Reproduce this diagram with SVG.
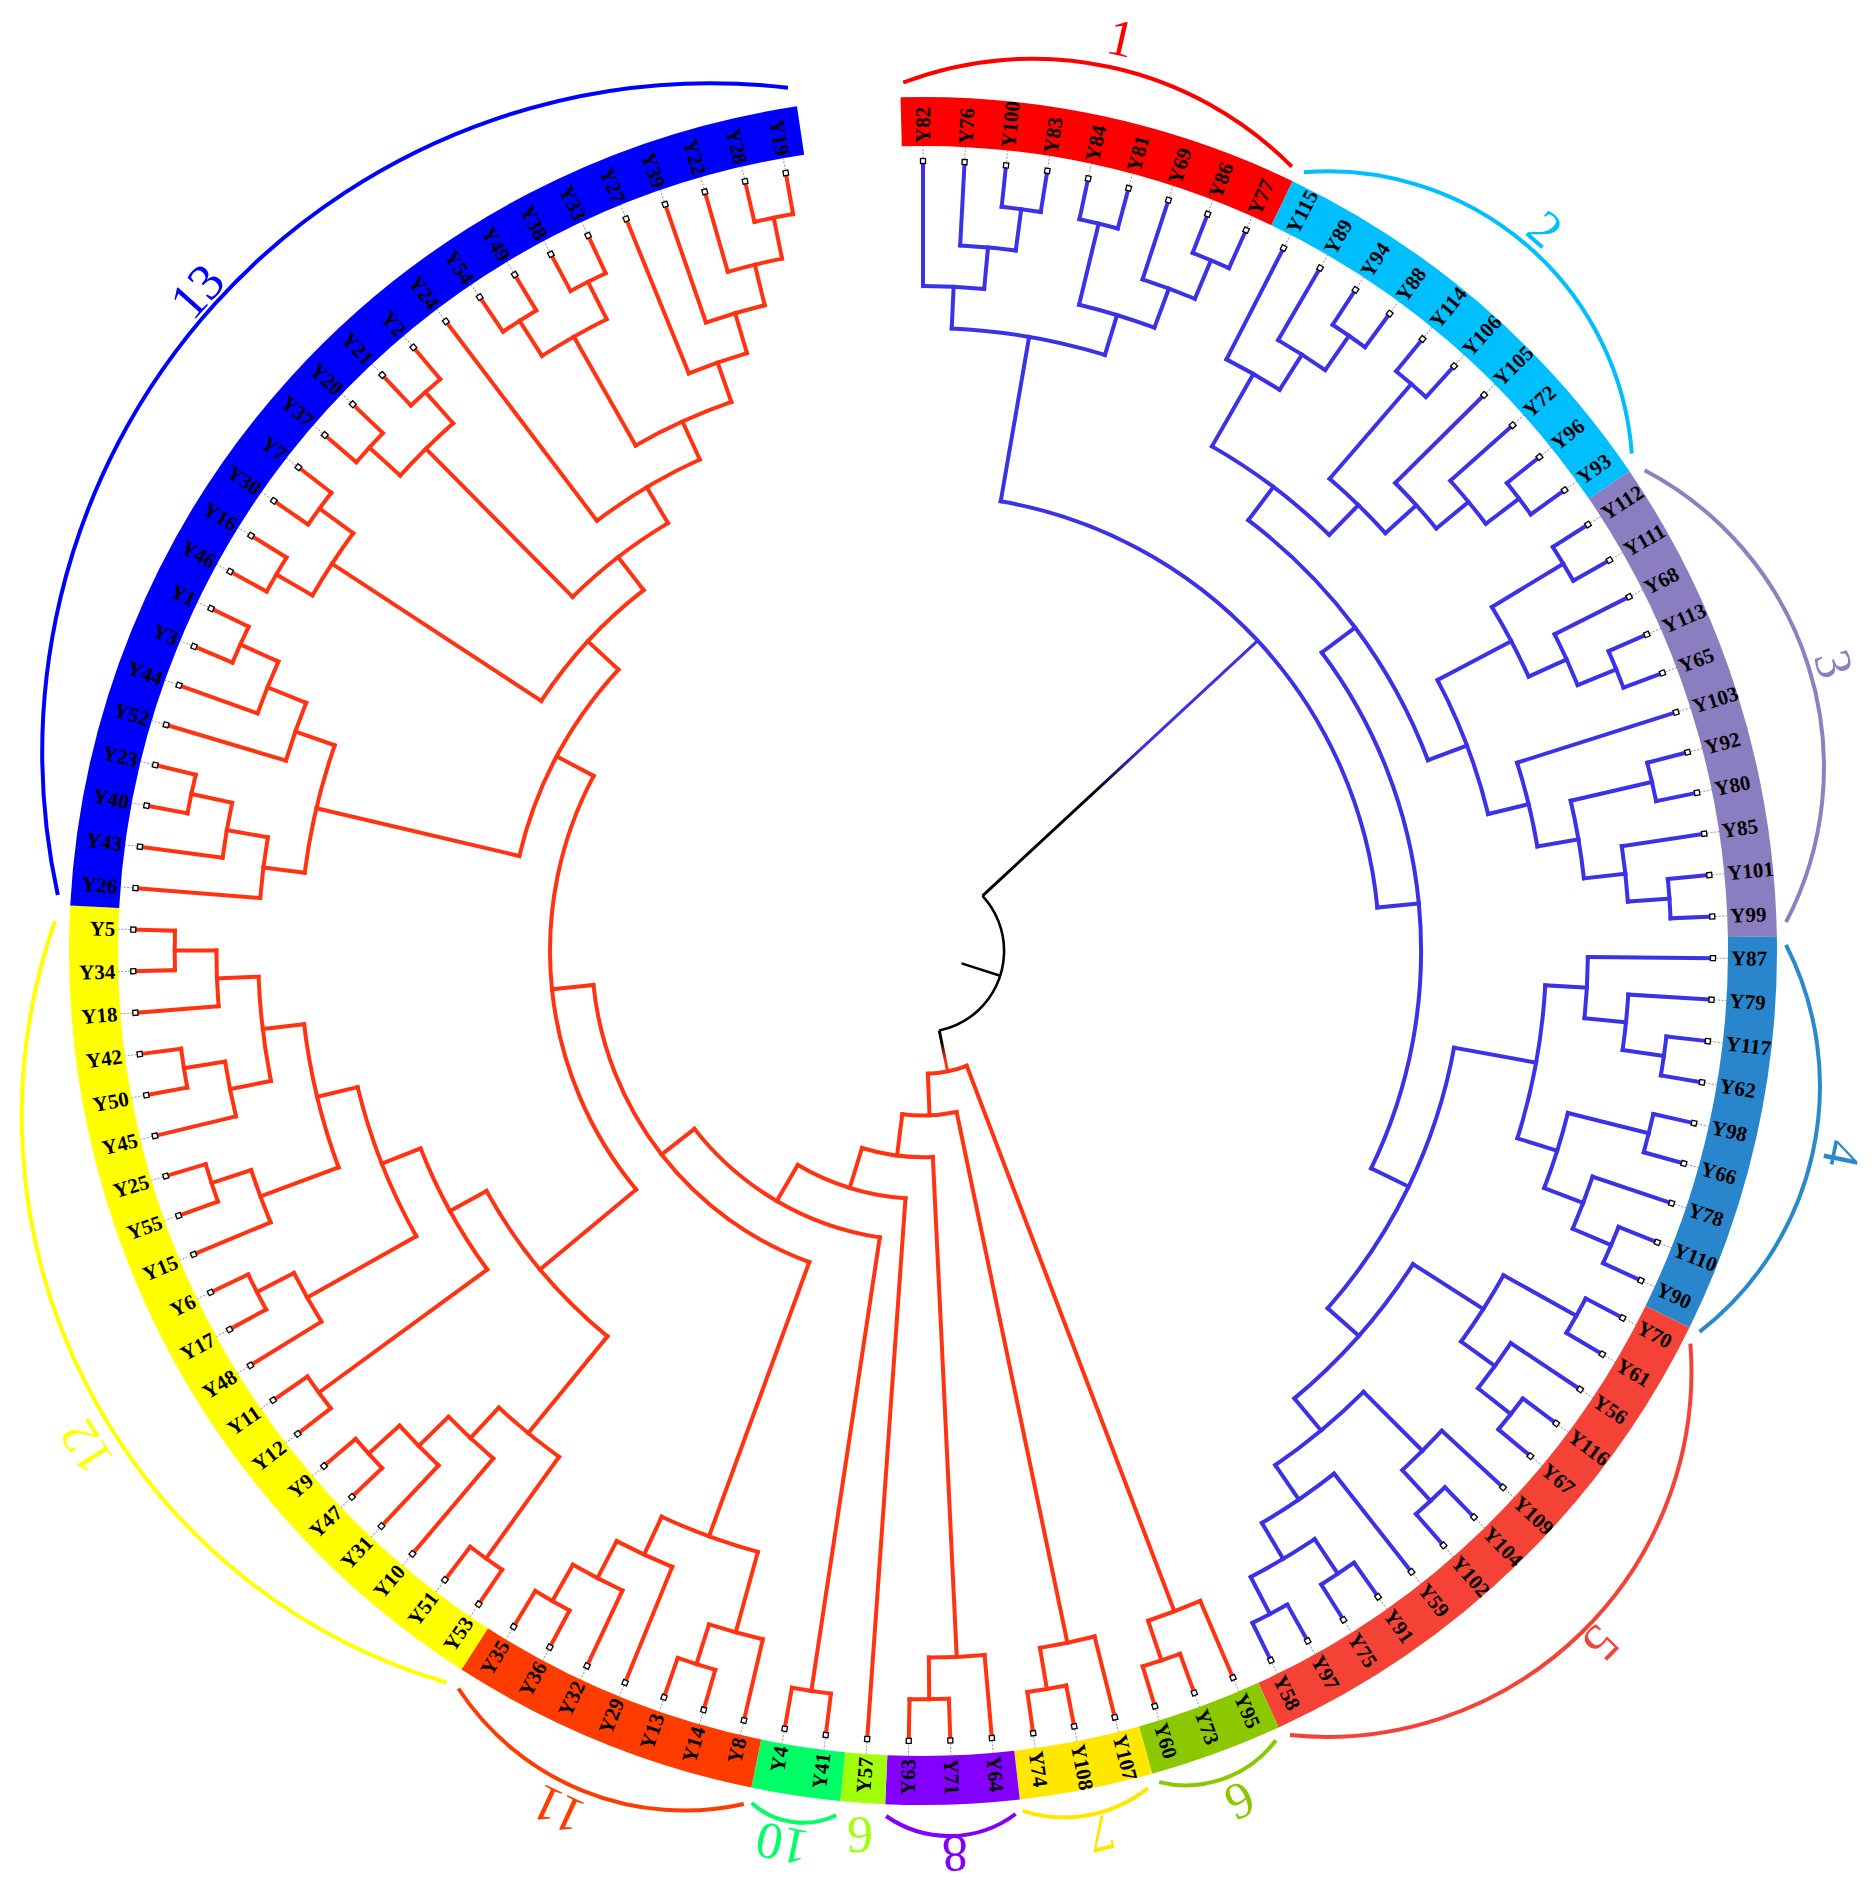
<svg xmlns="http://www.w3.org/2000/svg" xmlns:xlink="http://www.w3.org/1999/xlink" width="1875" height="1894" viewBox="0 0 1875 1894">
<style>
.b{fill:none;stroke:#3B31E6;stroke-width:4;stroke-linecap:square}
.r{fill:none;stroke:#FF3311;stroke-width:4;stroke-linecap:square}
.band{fill:none;stroke-width:49}
.lf text{font-family:'Liberation Serif',serif;font-weight:bold;font-size:21px;fill:#000;dominant-baseline:central}
.lf text.f{text-anchor:end}
.ca{fill:none;stroke-width:4}
.cl{font-family:'Liberation Serif',serif;font-size:52px;text-anchor:middle;dominant-baseline:central}
</style>
<defs>
<g id="tm"><path d="M793 0H805" stroke="#999" stroke-width="1" stroke-dasharray="2 1.5"/><rect x="787.5" y="-2.5" width="5" height="5" fill="#fff" stroke="#000" stroke-width="1.3"/></g>
<linearGradient id="gb" gradientUnits="userSpaceOnUse" x1="230" y1="0" x2="300" y2="0"><stop offset="0" stop-color="#000"/><stop offset="1" stop-color="#3B31E6"/></linearGradient>
<linearGradient id="gr" gradientUnits="userSpaceOnUse" x1="92" y1="0" x2="112" y2="0"><stop offset="0" stop-color="#000"/><stop offset="1" stop-color="#FF3311"/></linearGradient>
</defs>
<g transform="translate(923 951)">
<g id="ring">
<circle class="band" r="829.5" pathLength="360" stroke="#FF0000" stroke-dasharray="27.155 400" transform="rotate(-91.509)"/>
<circle class="band" r="829.5" pathLength="360" stroke="#00BFFF" stroke-dasharray="30.172 400" transform="rotate(-64.353)"/>
<circle class="band" r="829.5" pathLength="360" stroke="#8B7EC0" stroke-dasharray="33.19 400" transform="rotate(-34.181)"/>
<circle class="band" r="829.5" pathLength="360" stroke="#2986CC" stroke-dasharray="27.155 400" transform="rotate(-0.991)"/>
<circle class="band" r="829.5" pathLength="360" stroke="#F44236" stroke-dasharray="39.224 400" transform="rotate(26.164)"/>
<circle class="band" r="829.5" pathLength="360" stroke="#8CC800" stroke-dasharray="9.052 400" transform="rotate(65.388)"/>
<circle class="band" r="829.5" pathLength="360" stroke="#FFE700" stroke-dasharray="9.052 400" transform="rotate(74.44)"/>
<circle class="band" r="829.5" pathLength="360" stroke="#8300FF" stroke-dasharray="9.052 400" transform="rotate(83.491)"/>
<circle class="band" r="829.5" pathLength="360" stroke="#A2FF0A" stroke-dasharray="3.017 400" transform="rotate(92.543)"/>
<circle class="band" r="829.5" pathLength="360" stroke="#00FF66" stroke-dasharray="6.034 400" transform="rotate(95.56)"/>
<circle class="band" r="829.5" pathLength="360" stroke="#FF3C00" stroke-dasharray="21.121 400" transform="rotate(101.595)"/>
<circle class="band" r="829.5" pathLength="360" stroke="#FFFF00" stroke-dasharray="60.345 400" transform="rotate(122.716)"/>
<circle class="band" r="829.5" pathLength="360" stroke="#0000FF" stroke-dasharray="78.448 400" transform="rotate(183.06)"/>
</g>
<g id="connectors">
<g class="b">
<circle r="748.3" pathLength="360" stroke-dasharray="3.017 400" transform="rotate(-83.966)"/>
<circle r="748.3" pathLength="360" stroke-dasharray="3.017 400" transform="rotate(-77.931)"/>
<circle r="748.3" pathLength="360" stroke-dasharray="3.017 400" transform="rotate(-68.879)"/>
<circle r="748.3" pathLength="360" stroke-dasharray="3.017 400" transform="rotate(-56.81)"/>
<circle r="748.3" pathLength="360" stroke-dasharray="3.017 400" transform="rotate(-50.776)"/>
<circle r="748.3" pathLength="360" stroke-dasharray="3.017 400" transform="rotate(-38.707)"/>
<circle r="748.3" pathLength="360" stroke-dasharray="3.017 400" transform="rotate(-32.672)"/>
<circle r="748.3" pathLength="360" stroke-dasharray="3.017 400" transform="rotate(-23.621)"/>
<circle r="748.3" pathLength="360" stroke-dasharray="3.017 400" transform="rotate(-14.569)"/>
<circle r="748.3" pathLength="360" stroke-dasharray="3.017 400" transform="rotate(-5.517)"/>
<circle r="748.3" pathLength="360" stroke-dasharray="3.017 400" transform="rotate(6.552)"/>
<circle r="748.3" pathLength="360" stroke-dasharray="3.017 400" transform="rotate(12.586)"/>
<circle r="748.3" pathLength="360" stroke-dasharray="3.017 400" transform="rotate(21.638)"/>
<circle r="748.3" pathLength="360" stroke-dasharray="3.017 400" transform="rotate(27.672)"/>
<circle r="748.3" pathLength="360" stroke-dasharray="3.017 400" transform="rotate(36.724)"/>
<circle r="748.3" pathLength="360" stroke-dasharray="3.017 400" transform="rotate(45.776)"/>
<circle r="748.3" pathLength="360" stroke-dasharray="3.017 400" transform="rotate(54.828)"/>
<circle r="748.3" pathLength="360" stroke-dasharray="3.017 400" transform="rotate(60.862)"/>
<circle r="706.6" pathLength="360" stroke-dasharray="4.526 400" transform="rotate(-86.983)"/>
<circle r="706.6" pathLength="360" stroke-dasharray="4.526 400" transform="rotate(-71.897)"/>
<circle r="706.6" pathLength="360" stroke-dasharray="4.526 400" transform="rotate(-59.828)"/>
<circle r="706.6" pathLength="360" stroke-dasharray="4.526 400" transform="rotate(-41.724)"/>
<circle r="706.6" pathLength="360" stroke-dasharray="4.526 400" transform="rotate(-26.638)"/>
<circle r="706.6" pathLength="360" stroke-dasharray="4.526 400" transform="rotate(-8.534)"/>
<circle r="706.6" pathLength="360" stroke-dasharray="4.526 400" transform="rotate(3.534)"/>
<circle r="706.6" pathLength="360" stroke-dasharray="4.526 400" transform="rotate(18.621)"/>
<circle r="706.6" pathLength="360" stroke-dasharray="4.526 400" transform="rotate(33.707)"/>
<circle r="706.6" pathLength="360" stroke-dasharray="4.526 400" transform="rotate(42.759)"/>
<circle r="706.6" pathLength="360" stroke-dasharray="6.035 400" transform="rotate(56.336)"/>
<circle r="664.9" pathLength="360" stroke-dasharray="5.28 400" transform="rotate(-90)"/>
<circle r="664.9" pathLength="360" stroke-dasharray="6.788 400" transform="rotate(-76.422)"/>
<circle r="664.9" pathLength="360" stroke-dasharray="5.28 400" transform="rotate(-62.845)"/>
<circle r="664.9" pathLength="360" stroke-dasharray="5.28 400" transform="rotate(-44.741)"/>
<circle r="664.9" pathLength="360" stroke-dasharray="6.789 400" transform="rotate(-31.164)"/>
<circle r="664.9" pathLength="360" stroke-dasharray="6.789 400" transform="rotate(-13.06)"/>
<circle r="664.9" pathLength="360" stroke-dasharray="5.28 400" transform="rotate(0.517)"/>
<circle r="664.9" pathLength="360" stroke-dasharray="6.789 400" transform="rotate(14.095)"/>
<circle r="664.9" pathLength="360" stroke-dasharray="6.789 400" transform="rotate(29.181)"/>
<circle r="664.9" pathLength="360" stroke-dasharray="7.543 400" transform="rotate(51.81)"/>
<circle r="623.2" pathLength="360" stroke-dasharray="14.332 400" transform="rotate(-87.36)"/>
<circle r="623.2" pathLength="360" stroke-dasharray="7.166 400" transform="rotate(-49.267)"/>
<circle r="623.2" pathLength="360" stroke-dasharray="7.92 400" transform="rotate(-17.586)"/>
<circle r="623.2" pathLength="360" stroke-dasharray="14.332 400" transform="rotate(3.157)"/>
<circle r="623.2" pathLength="360" stroke-dasharray="10.56 400" transform="rotate(45.022)"/>
<circle r="581.5" pathLength="360" stroke-dasharray="14.521 400" transform="rotate(-60.205)"/>
<circle r="581.5" pathLength="360" stroke-dasharray="14.143 400" transform="rotate(-27.769)"/>
<circle r="581.5" pathLength="360" stroke-dasharray="17.727 400" transform="rotate(32.575)"/>
<circle r="539.8" pathLength="360" stroke-dasharray="32.247 400" transform="rotate(-52.944)"/>
<circle r="539.8" pathLength="360" stroke-dasharray="31.116 400" transform="rotate(10.323)"/>
<circle r="498.1" pathLength="360" stroke-dasharray="62.702 400" transform="rotate(-36.821)"/>
<circle r="456.4" pathLength="360" stroke-dasharray="74.724 400" transform="rotate(-80.194)"/>
<path transform="rotate(-82.457)" d="M706.6 0H748.3"/>
<path transform="rotate(-84.72)" d="M664.9 0H706.6"/>
<path transform="rotate(-87.36)" d="M623.2 0H664.9"/>
<path transform="rotate(-76.422)" d="M664.9 0H748.3"/>
<path transform="rotate(-67.371)" d="M706.6 0H748.3"/>
<path transform="rotate(-69.634)" d="M664.9 0H706.6"/>
<path transform="rotate(-73.028)" d="M623.2 0H664.9"/>
<path transform="rotate(-80.194)" d="M456.4 0H623.2"/>
<path transform="rotate(-55.302)" d="M706.6 0H748.3"/>
<path transform="rotate(-57.565)" d="M664.9 0H706.6"/>
<path transform="rotate(-60.205)" d="M581.5 0H664.9"/>
<path transform="rotate(-49.267)" d="M623.2 0H748.3"/>
<path transform="rotate(-37.198)" d="M706.6 0H748.3"/>
<path transform="rotate(-39.461)" d="M664.9 0H706.6"/>
<path transform="rotate(-42.101)" d="M623.2 0H664.9"/>
<path transform="rotate(-45.684)" d="M581.5 0H623.2"/>
<path transform="rotate(-52.944)" d="M539.8 0H581.5"/>
<path transform="rotate(-31.164)" d="M664.9 0H748.3"/>
<path transform="rotate(-22.112)" d="M706.6 0H748.3"/>
<path transform="rotate(-24.375)" d="M664.9 0H706.6"/>
<path transform="rotate(-27.769)" d="M581.5 0H664.9"/>
<path transform="rotate(-13.06)" d="M664.9 0H748.3"/>
<path transform="rotate(-4.008)" d="M706.6 0H748.3"/>
<path transform="rotate(-6.271)" d="M664.9 0H706.6"/>
<path transform="rotate(-9.666)" d="M623.2 0H664.9"/>
<path transform="rotate(-13.626)" d="M581.5 0H623.2"/>
<path transform="rotate(-20.697)" d="M539.8 0H581.5"/>
<path transform="rotate(-36.821)" d="M498.1 0H539.8"/>
<path transform="rotate(8.06)" d="M706.6 0H748.3"/>
<path transform="rotate(5.797)" d="M664.9 0H706.6"/>
<path transform="rotate(3.157)" d="M623.2 0H664.9"/>
<path transform="rotate(14.095)" d="M664.9 0H748.3"/>
<path transform="rotate(23.147)" d="M706.6 0H748.3"/>
<path transform="rotate(20.884)" d="M664.9 0H706.6"/>
<path transform="rotate(17.489)" d="M623.2 0H664.9"/>
<path transform="rotate(10.323)" d="M539.8 0H623.2"/>
<path transform="rotate(29.181)" d="M664.9 0H748.3"/>
<path transform="rotate(38.233)" d="M706.6 0H748.3"/>
<path transform="rotate(35.97)" d="M664.9 0H706.6"/>
<path transform="rotate(32.575)" d="M581.5 0H664.9"/>
<path transform="rotate(47.285)" d="M706.6 0H748.3"/>
<path transform="rotate(45.022)" d="M623.2 0H706.6"/>
<path transform="rotate(56.336)" d="M706.6 0H748.3"/>
<path transform="rotate(62.371)" d="M706.6 0H748.3"/>
<path transform="rotate(59.353)" d="M664.9 0H706.6"/>
<path transform="rotate(55.582)" d="M623.2 0H664.9"/>
<path transform="rotate(50.302)" d="M581.5 0H623.2"/>
<path transform="rotate(41.439)" d="M539.8 0H581.5"/>
<path transform="rotate(25.881)" d="M498.1 0H539.8"/>
<path transform="rotate(-5.47)" d="M456.4 0H498.1"/>
<path transform="rotate(-90)" d="M664.9 0H790"/>
<path transform="rotate(-86.983)" d="M706.6 0H790"/>
<path transform="rotate(-83.966)" d="M748.3 0H790"/>
<path transform="rotate(-80.948)" d="M748.3 0H790"/>
<path transform="rotate(-77.931)" d="M748.3 0H790"/>
<path transform="rotate(-74.914)" d="M748.3 0H790"/>
<path transform="rotate(-71.897)" d="M706.6 0H790"/>
<path transform="rotate(-68.879)" d="M748.3 0H790"/>
<path transform="rotate(-65.862)" d="M748.3 0H790"/>
<path transform="rotate(-62.845)" d="M664.9 0H790"/>
<path transform="rotate(-59.828)" d="M706.6 0H790"/>
<path transform="rotate(-56.81)" d="M748.3 0H790"/>
<path transform="rotate(-53.793)" d="M748.3 0H790"/>
<path transform="rotate(-50.776)" d="M748.3 0H790"/>
<path transform="rotate(-47.759)" d="M748.3 0H790"/>
<path transform="rotate(-44.741)" d="M664.9 0H790"/>
<path transform="rotate(-41.724)" d="M706.6 0H790"/>
<path transform="rotate(-38.707)" d="M748.3 0H790"/>
<path transform="rotate(-35.69)" d="M748.3 0H790"/>
<path transform="rotate(-32.672)" d="M748.3 0H790"/>
<path transform="rotate(-29.655)" d="M748.3 0H790"/>
<path transform="rotate(-26.638)" d="M706.6 0H790"/>
<path transform="rotate(-23.621)" d="M748.3 0H790"/>
<path transform="rotate(-20.603)" d="M748.3 0H790"/>
<path transform="rotate(-17.586)" d="M623.2 0H790"/>
<path transform="rotate(-14.569)" d="M748.3 0H790"/>
<path transform="rotate(-11.552)" d="M748.3 0H790"/>
<path transform="rotate(-8.534)" d="M706.6 0H790"/>
<path transform="rotate(-5.517)" d="M748.3 0H790"/>
<path transform="rotate(-2.5)" d="M748.3 0H790"/>
<path transform="rotate(0.517)" d="M664.9 0H790"/>
<path transform="rotate(3.534)" d="M706.6 0H790"/>
<path transform="rotate(6.552)" d="M748.3 0H790"/>
<path transform="rotate(9.569)" d="M748.3 0H790"/>
<path transform="rotate(12.586)" d="M748.3 0H790"/>
<path transform="rotate(15.603)" d="M748.3 0H790"/>
<path transform="rotate(18.621)" d="M706.6 0H790"/>
<path transform="rotate(21.638)" d="M748.3 0H790"/>
<path transform="rotate(24.655)" d="M748.3 0H790"/>
<path transform="rotate(27.672)" d="M748.3 0H790"/>
<path transform="rotate(30.69)" d="M748.3 0H790"/>
<path transform="rotate(33.707)" d="M706.6 0H790"/>
<path transform="rotate(36.724)" d="M748.3 0H790"/>
<path transform="rotate(39.741)" d="M748.3 0H790"/>
<path transform="rotate(42.759)" d="M706.6 0H790"/>
<path transform="rotate(45.776)" d="M748.3 0H790"/>
<path transform="rotate(48.793)" d="M748.3 0H790"/>
<path transform="rotate(51.81)" d="M664.9 0H790"/>
<path transform="rotate(54.828)" d="M748.3 0H790"/>
<path transform="rotate(57.845)" d="M748.3 0H790"/>
<path transform="rotate(60.862)" d="M748.3 0H790"/>
<path transform="rotate(63.879)" d="M748.3 0H790"/>
</g>
<g class="r">
<circle r="748.3" pathLength="360" stroke-dasharray="3.017 400" transform="rotate(69.914)"/>
<circle r="748.3" pathLength="360" stroke-dasharray="3.017 400" transform="rotate(78.966)"/>
<circle r="748.3" pathLength="360" stroke-dasharray="3.017 400" transform="rotate(88.017)"/>
<circle r="748.3" pathLength="360" stroke-dasharray="3.017 400" transform="rotate(97.069)"/>
<circle r="748.3" pathLength="360" stroke-dasharray="3.017 400" transform="rotate(106.121)"/>
<circle r="748.3" pathLength="360" stroke-dasharray="3.017 400" transform="rotate(118.19)"/>
<circle r="748.3" pathLength="360" stroke-dasharray="3.017 400" transform="rotate(124.224)"/>
<circle r="748.3" pathLength="360" stroke-dasharray="3.017 400" transform="rotate(136.293)"/>
<circle r="748.3" pathLength="360" stroke-dasharray="3.017 400" transform="rotate(142.328)"/>
<circle r="748.3" pathLength="360" stroke-dasharray="3.017 400" transform="rotate(151.379)"/>
<circle r="748.3" pathLength="360" stroke-dasharray="3.017 400" transform="rotate(160.431)"/>
<circle r="748.3" pathLength="360" stroke-dasharray="3.017 400" transform="rotate(169.483)"/>
<circle r="748.3" pathLength="360" stroke-dasharray="3.017 400" transform="rotate(178.534)"/>
<circle r="748.3" pathLength="360" stroke-dasharray="3.017 400" transform="rotate(190.603)"/>
<circle r="748.3" pathLength="360" stroke-dasharray="3.017 400" transform="rotate(202.672)"/>
<circle r="748.3" pathLength="360" stroke-dasharray="3.017 400" transform="rotate(208.707)"/>
<circle r="748.3" pathLength="360" stroke-dasharray="3.017 400" transform="rotate(214.741)"/>
<circle r="748.3" pathLength="360" stroke-dasharray="3.017 400" transform="rotate(220.776)"/>
<circle r="748.3" pathLength="360" stroke-dasharray="3.017 400" transform="rotate(226.81)"/>
<circle r="748.3" pathLength="360" stroke-dasharray="3.017 400" transform="rotate(235.862)"/>
<circle r="748.3" pathLength="360" stroke-dasharray="3.017 400" transform="rotate(241.897)"/>
<circle r="748.3" pathLength="360" stroke-dasharray="3.017 400" transform="rotate(256.983)"/>
<circle r="706.6" pathLength="360" stroke-dasharray="4.525 400" transform="rotate(66.897)"/>
<circle r="706.6" pathLength="360" stroke-dasharray="4.526 400" transform="rotate(75.948)"/>
<circle r="706.6" pathLength="360" stroke-dasharray="4.526 400" transform="rotate(85)"/>
<circle r="706.6" pathLength="360" stroke-dasharray="4.526 400" transform="rotate(103.103)"/>
<circle r="706.6" pathLength="360" stroke-dasharray="4.526 400" transform="rotate(115.172)"/>
<circle r="706.6" pathLength="360" stroke-dasharray="4.526 400" transform="rotate(133.276)"/>
<circle r="706.6" pathLength="360" stroke-dasharray="4.526 400" transform="rotate(148.362)"/>
<circle r="706.6" pathLength="360" stroke-dasharray="4.526 400" transform="rotate(157.414)"/>
<circle r="706.6" pathLength="360" stroke-dasharray="4.525 400" transform="rotate(166.466)"/>
<circle r="706.6" pathLength="360" stroke-dasharray="4.526 400" transform="rotate(175.517)"/>
<circle r="706.6" pathLength="360" stroke-dasharray="4.526 400" transform="rotate(187.586)"/>
<circle r="706.6" pathLength="360" stroke-dasharray="4.526 400" transform="rotate(199.655)"/>
<circle r="706.6" pathLength="360" stroke-dasharray="6.034 400" transform="rotate(210.216)"/>
<circle r="706.6" pathLength="360" stroke-dasharray="6.034 400" transform="rotate(222.285)"/>
<circle r="706.6" pathLength="360" stroke-dasharray="6.035 400" transform="rotate(237.371)"/>
<circle r="706.6" pathLength="360" stroke-dasharray="4.526 400" transform="rotate(253.966)"/>
<circle r="664.9" pathLength="360" stroke-dasharray="5.28 400" transform="rotate(112.155)"/>
<circle r="664.9" pathLength="360" stroke-dasharray="5.28 400" transform="rotate(130.259)"/>
<circle r="664.9" pathLength="360" stroke-dasharray="9.051 400" transform="rotate(168.729)"/>
<circle r="664.9" pathLength="360" stroke-dasharray="5.28 400" transform="rotate(184.569)"/>
<circle r="664.9" pathLength="360" stroke-dasharray="5.28 400" transform="rotate(196.638)"/>
<circle r="664.9" pathLength="360" stroke-dasharray="5.281 400" transform="rotate(250.948)"/>
<circle r="623.2" pathLength="360" stroke-dasharray="9.429 400" transform="rotate(105.366)"/>
<circle r="623.2" pathLength="360" stroke-dasharray="7.166 400" transform="rotate(125.733)"/>
<circle r="623.2" pathLength="360" stroke-dasharray="13.577 400" transform="rotate(159.677)"/>
<circle r="623.2" pathLength="360" stroke-dasharray="12.069 400" transform="rotate(187.209)"/>
<circle r="623.2" pathLength="360" stroke-dasharray="5.658 400" transform="rotate(247.931)"/>
<circle r="581.5" pathLength="360" stroke-dasharray="15.841 400" transform="rotate(150.625)"/>
<circle r="581.5" pathLength="360" stroke-dasharray="10.372 400" transform="rotate(240.388)"/>
<circle r="539.8" pathLength="360" stroke-dasharray="14.709 400" transform="rotate(143.836)"/>
<circle r="539.8" pathLength="360" stroke-dasharray="12.729 400" transform="rotate(232.845)"/>
<circle r="498.1" pathLength="360" stroke-dasharray="21.875 400" transform="rotate(129.316)"/>
<circle r="498.1" pathLength="360" stroke-dasharray="13.908 400" transform="rotate(225.302)"/>
<circle r="456.4" pathLength="360" stroke-dasharray="19.023 400" transform="rotate(213.233)"/>
<circle r="414.7" pathLength="360" stroke-dasharray="29.501 400" transform="rotate(193.244)"/>
<circle r="373" pathLength="360" stroke-dasharray="67.741 400" transform="rotate(140.253)"/>
<circle r="331.3" pathLength="360" stroke-dasharray="64.043 400" transform="rotate(110.081)"/>
<circle r="289.6" pathLength="360" stroke-dasharray="43.525 400" transform="rotate(98.578)"/>
<circle r="247.9" pathLength="360" stroke-dasharray="26.289 400" transform="rotate(94.052)"/>
<circle r="206.2" pathLength="360" stroke-dasharray="19.933 400" transform="rotate(87.263)"/>
<circle r="164.5" pathLength="360" stroke-dasharray="19.019 400" transform="rotate(78.211)"/>
<circle r="122.8" pathLength="360" stroke-dasharray="18.56 400" transform="rotate(69.16)"/>
<path transform="rotate(71.422)" d="M706.6 0H748.3"/>
<path transform="rotate(69.16)" d="M122.8 0H706.6"/>
<path transform="rotate(80.474)" d="M706.6 0H748.3"/>
<path transform="rotate(78.211)" d="M164.5 0H706.6"/>
<path transform="rotate(89.526)" d="M706.6 0H748.3"/>
<path transform="rotate(87.263)" d="M206.2 0H706.6"/>
<path transform="rotate(98.578)" d="M289.6 0H748.3"/>
<path transform="rotate(107.629)" d="M706.6 0H748.3"/>
<path transform="rotate(105.366)" d="M623.2 0H706.6"/>
<path transform="rotate(119.698)" d="M706.6 0H748.3"/>
<path transform="rotate(117.435)" d="M664.9 0H706.6"/>
<path transform="rotate(114.795)" d="M623.2 0H664.9"/>
<path transform="rotate(110.081)" d="M331.3 0H623.2"/>
<path transform="rotate(125.733)" d="M623.2 0H748.3"/>
<path transform="rotate(137.802)" d="M706.6 0H748.3"/>
<path transform="rotate(135.539)" d="M664.9 0H706.6"/>
<path transform="rotate(132.899)" d="M623.2 0H664.9"/>
<path transform="rotate(129.316)" d="M498.1 0H623.2"/>
<path transform="rotate(143.836)" d="M539.8 0H748.3"/>
<path transform="rotate(152.888)" d="M706.6 0H748.3"/>
<path transform="rotate(150.625)" d="M581.5 0H706.6"/>
<path transform="rotate(161.94)" d="M706.6 0H748.3"/>
<path transform="rotate(159.677)" d="M623.2 0H706.6"/>
<path transform="rotate(170.991)" d="M706.6 0H748.3"/>
<path transform="rotate(168.729)" d="M664.9 0H706.6"/>
<path transform="rotate(180.043)" d="M706.6 0H748.3"/>
<path transform="rotate(177.78)" d="M664.9 0H706.6"/>
<path transform="rotate(173.254)" d="M623.2 0H664.9"/>
<path transform="rotate(166.466)" d="M581.5 0H623.2"/>
<path transform="rotate(158.545)" d="M539.8 0H581.5"/>
<path transform="rotate(151.191)" d="M498.1 0H539.8"/>
<path transform="rotate(140.253)" d="M373 0H498.1"/>
<path transform="rotate(192.112)" d="M706.6 0H748.3"/>
<path transform="rotate(189.849)" d="M664.9 0H706.6"/>
<path transform="rotate(187.209)" d="M623.2 0H664.9"/>
<path transform="rotate(204.181)" d="M706.6 0H748.3"/>
<path transform="rotate(201.918)" d="M664.9 0H706.6"/>
<path transform="rotate(199.278)" d="M623.2 0H664.9"/>
<path transform="rotate(193.244)" d="M414.7 0H623.2"/>
<path transform="rotate(210.216)" d="M706.6 0H748.3"/>
<path transform="rotate(216.25)" d="M706.6 0H748.3"/>
<path transform="rotate(213.233)" d="M456.4 0H706.6"/>
<path transform="rotate(222.285)" d="M706.6 0H748.3"/>
<path transform="rotate(228.319)" d="M706.6 0H748.3"/>
<path transform="rotate(225.302)" d="M498.1 0H706.6"/>
<path transform="rotate(237.371)" d="M706.6 0H748.3"/>
<path transform="rotate(243.406)" d="M706.6 0H748.3"/>
<path transform="rotate(240.388)" d="M581.5 0H706.6"/>
<path transform="rotate(258.492)" d="M706.6 0H748.3"/>
<path transform="rotate(256.229)" d="M664.9 0H706.6"/>
<path transform="rotate(253.589)" d="M623.2 0H664.9"/>
<path transform="rotate(250.76)" d="M581.5 0H623.2"/>
<path transform="rotate(245.574)" d="M539.8 0H581.5"/>
<path transform="rotate(239.21)" d="M498.1 0H539.8"/>
<path transform="rotate(232.256)" d="M456.4 0H498.1"/>
<path transform="rotate(222.745)" d="M414.7 0H456.4"/>
<path transform="rotate(207.994)" d="M373 0H414.7"/>
<path transform="rotate(174.124)" d="M331.3 0H373"/>
<path transform="rotate(142.103)" d="M289.6 0H331.3"/>
<path transform="rotate(120.341)" d="M247.9 0H289.6"/>
<path transform="rotate(107.196)" d="M206.2 0H247.9"/>
<path transform="rotate(97.23)" d="M164.5 0H206.2"/>
<path transform="rotate(87.72)" d="M122.8 0H164.5"/>
<path transform="rotate(66.897)" d="M706.6 0H790"/>
<path transform="rotate(69.914)" d="M748.3 0H790"/>
<path transform="rotate(72.931)" d="M748.3 0H790"/>
<path transform="rotate(75.948)" d="M706.6 0H790"/>
<path transform="rotate(78.966)" d="M748.3 0H790"/>
<path transform="rotate(81.983)" d="M748.3 0H790"/>
<path transform="rotate(85)" d="M706.6 0H790"/>
<path transform="rotate(88.017)" d="M748.3 0H790"/>
<path transform="rotate(91.034)" d="M748.3 0H790"/>
<path transform="rotate(94.052)" d="M247.9 0H790"/>
<path transform="rotate(97.069)" d="M748.3 0H790"/>
<path transform="rotate(100.086)" d="M748.3 0H790"/>
<path transform="rotate(103.103)" d="M706.6 0H790"/>
<path transform="rotate(106.121)" d="M748.3 0H790"/>
<path transform="rotate(109.138)" d="M748.3 0H790"/>
<path transform="rotate(112.155)" d="M664.9 0H790"/>
<path transform="rotate(115.172)" d="M706.6 0H790"/>
<path transform="rotate(118.19)" d="M748.3 0H790"/>
<path transform="rotate(121.207)" d="M748.3 0H790"/>
<path transform="rotate(124.224)" d="M748.3 0H790"/>
<path transform="rotate(127.241)" d="M748.3 0H790"/>
<path transform="rotate(130.259)" d="M664.9 0H790"/>
<path transform="rotate(133.276)" d="M706.6 0H790"/>
<path transform="rotate(136.293)" d="M748.3 0H790"/>
<path transform="rotate(139.31)" d="M748.3 0H790"/>
<path transform="rotate(142.328)" d="M748.3 0H790"/>
<path transform="rotate(145.345)" d="M748.3 0H790"/>
<path transform="rotate(148.362)" d="M706.6 0H790"/>
<path transform="rotate(151.379)" d="M748.3 0H790"/>
<path transform="rotate(154.397)" d="M748.3 0H790"/>
<path transform="rotate(157.414)" d="M706.6 0H790"/>
<path transform="rotate(160.431)" d="M748.3 0H790"/>
<path transform="rotate(163.448)" d="M748.3 0H790"/>
<path transform="rotate(166.466)" d="M706.6 0H790"/>
<path transform="rotate(169.483)" d="M748.3 0H790"/>
<path transform="rotate(172.5)" d="M748.3 0H790"/>
<path transform="rotate(175.517)" d="M706.6 0H790"/>
<path transform="rotate(178.534)" d="M748.3 0H790"/>
<path transform="rotate(181.552)" d="M748.3 0H790"/>
<path transform="rotate(184.569)" d="M664.9 0H790"/>
<path transform="rotate(187.586)" d="M706.6 0H790"/>
<path transform="rotate(190.603)" d="M748.3 0H790"/>
<path transform="rotate(193.621)" d="M748.3 0H790"/>
<path transform="rotate(196.638)" d="M664.9 0H790"/>
<path transform="rotate(199.655)" d="M706.6 0H790"/>
<path transform="rotate(202.672)" d="M748.3 0H790"/>
<path transform="rotate(205.69)" d="M748.3 0H790"/>
<path transform="rotate(208.707)" d="M748.3 0H790"/>
<path transform="rotate(211.724)" d="M748.3 0H790"/>
<path transform="rotate(214.741)" d="M748.3 0H790"/>
<path transform="rotate(217.759)" d="M748.3 0H790"/>
<path transform="rotate(220.776)" d="M748.3 0H790"/>
<path transform="rotate(223.793)" d="M748.3 0H790"/>
<path transform="rotate(226.81)" d="M748.3 0H790"/>
<path transform="rotate(229.828)" d="M748.3 0H790"/>
<path transform="rotate(232.845)" d="M539.8 0H790"/>
<path transform="rotate(235.862)" d="M748.3 0H790"/>
<path transform="rotate(238.879)" d="M748.3 0H790"/>
<path transform="rotate(241.897)" d="M748.3 0H790"/>
<path transform="rotate(244.914)" d="M748.3 0H790"/>
<path transform="rotate(247.931)" d="M623.2 0H790"/>
<path transform="rotate(250.948)" d="M664.9 0H790"/>
<path transform="rotate(253.966)" d="M706.6 0H790"/>
<path transform="rotate(256.983)" d="M748.3 0H790"/>
<path transform="rotate(260)" d="M748.3 0H790"/>
</g>
<g fill="none" stroke-width="2.6">
<circle r="81.1" pathLength="360" stroke="#000" stroke-dasharray="121.272 400" transform="rotate(-42.832)"/>
<path transform="rotate(17.804)" stroke="#000" d="M40.5 0H81.1"/>
<path transform="rotate(-42.832)" stroke="url(#gb)" stroke-width="3" d="M81.1 0H456.4"/>
<path transform="rotate(78.44)" stroke="url(#gr)" stroke-width="3" d="M81.1 0H122.8"/>
</g>
</g>
<g class="lf">
<g id="Y82" transform="rotate(-90)"><use href="#tm"/><text x="808">Y82</text></g>
<g id="Y76" transform="rotate(-86.983)"><use href="#tm"/><text x="808">Y76</text></g>
<g id="Y100" transform="rotate(-83.966)"><use href="#tm"/><text x="808">Y100</text></g>
<g id="Y83" transform="rotate(-80.948)"><use href="#tm"/><text x="808">Y83</text></g>
<g id="Y84" transform="rotate(-77.931)"><use href="#tm"/><text x="808">Y84</text></g>
<g id="Y81" transform="rotate(-74.914)"><use href="#tm"/><text x="808">Y81</text></g>
<g id="Y69" transform="rotate(-71.897)"><use href="#tm"/><text x="808">Y69</text></g>
<g id="Y86" transform="rotate(-68.879)"><use href="#tm"/><text x="808">Y86</text></g>
<g id="Y77" transform="rotate(-65.862)"><use href="#tm"/><text x="808">Y77</text></g>
<g id="Y115" transform="rotate(-62.845)"><use href="#tm"/><text x="808">Y115</text></g>
<g id="Y89" transform="rotate(-59.828)"><use href="#tm"/><text x="808">Y89</text></g>
<g id="Y94" transform="rotate(-56.81)"><use href="#tm"/><text x="808">Y94</text></g>
<g id="Y88" transform="rotate(-53.793)"><use href="#tm"/><text x="808">Y88</text></g>
<g id="Y114" transform="rotate(-50.776)"><use href="#tm"/><text x="808">Y114</text></g>
<g id="Y106" transform="rotate(-47.759)"><use href="#tm"/><text x="808">Y106</text></g>
<g id="Y105" transform="rotate(-44.741)"><use href="#tm"/><text x="808">Y105</text></g>
<g id="Y72" transform="rotate(-41.724)"><use href="#tm"/><text x="808">Y72</text></g>
<g id="Y96" transform="rotate(-38.707)"><use href="#tm"/><text x="808">Y96</text></g>
<g id="Y93" transform="rotate(-35.69)"><use href="#tm"/><text x="808">Y93</text></g>
<g id="Y112" transform="rotate(-32.672)"><use href="#tm"/><text x="808">Y112</text></g>
<g id="Y111" transform="rotate(-29.655)"><use href="#tm"/><text x="808">Y111</text></g>
<g id="Y68" transform="rotate(-26.638)"><use href="#tm"/><text x="808">Y68</text></g>
<g id="Y113" transform="rotate(-23.621)"><use href="#tm"/><text x="808">Y113</text></g>
<g id="Y65" transform="rotate(-20.603)"><use href="#tm"/><text x="808">Y65</text></g>
<g id="Y103" transform="rotate(-17.586)"><use href="#tm"/><text x="808">Y103</text></g>
<g id="Y92" transform="rotate(-14.569)"><use href="#tm"/><text x="808">Y92</text></g>
<g id="Y80" transform="rotate(-11.552)"><use href="#tm"/><text x="808">Y80</text></g>
<g id="Y85" transform="rotate(-8.534)"><use href="#tm"/><text x="808">Y85</text></g>
<g id="Y101" transform="rotate(-5.517)"><use href="#tm"/><text x="808">Y101</text></g>
<g id="Y99" transform="rotate(-2.5)"><use href="#tm"/><text x="808">Y99</text></g>
<g id="Y87" transform="rotate(0.517)"><use href="#tm"/><text x="808">Y87</text></g>
<g id="Y79" transform="rotate(3.534)"><use href="#tm"/><text x="808">Y79</text></g>
<g id="Y117" transform="rotate(6.552)"><use href="#tm"/><text x="808">Y117</text></g>
<g id="Y62" transform="rotate(9.569)"><use href="#tm"/><text x="808">Y62</text></g>
<g id="Y98" transform="rotate(12.586)"><use href="#tm"/><text x="808">Y98</text></g>
<g id="Y66" transform="rotate(15.603)"><use href="#tm"/><text x="808">Y66</text></g>
<g id="Y78" transform="rotate(18.621)"><use href="#tm"/><text x="808">Y78</text></g>
<g id="Y110" transform="rotate(21.638)"><use href="#tm"/><text x="808">Y110</text></g>
<g id="Y90" transform="rotate(24.655)"><use href="#tm"/><text x="808">Y90</text></g>
<g id="Y70" transform="rotate(27.672)"><use href="#tm"/><text x="808">Y70</text></g>
<g id="Y61" transform="rotate(30.69)"><use href="#tm"/><text x="808">Y61</text></g>
<g id="Y56" transform="rotate(33.707)"><use href="#tm"/><text x="808">Y56</text></g>
<g id="Y116" transform="rotate(36.724)"><use href="#tm"/><text x="808">Y116</text></g>
<g id="Y67" transform="rotate(39.741)"><use href="#tm"/><text x="808">Y67</text></g>
<g id="Y109" transform="rotate(42.759)"><use href="#tm"/><text x="808">Y109</text></g>
<g id="Y104" transform="rotate(45.776)"><use href="#tm"/><text x="808">Y104</text></g>
<g id="Y102" transform="rotate(48.793)"><use href="#tm"/><text x="808">Y102</text></g>
<g id="Y59" transform="rotate(51.81)"><use href="#tm"/><text x="808">Y59</text></g>
<g id="Y91" transform="rotate(54.828)"><use href="#tm"/><text x="808">Y91</text></g>
<g id="Y75" transform="rotate(57.845)"><use href="#tm"/><text x="808">Y75</text></g>
<g id="Y97" transform="rotate(60.862)"><use href="#tm"/><text x="808">Y97</text></g>
<g id="Y58" transform="rotate(63.879)"><use href="#tm"/><text x="808">Y58</text></g>
<g id="Y95" transform="rotate(66.897)"><use href="#tm"/><text x="808">Y95</text></g>
<g id="Y73" transform="rotate(69.914)"><use href="#tm"/><text x="808">Y73</text></g>
<g id="Y60" transform="rotate(72.931)"><use href="#tm"/><text x="808">Y60</text></g>
<g id="Y107" transform="rotate(75.948)"><use href="#tm"/><text x="808">Y107</text></g>
<g id="Y108" transform="rotate(78.966)"><use href="#tm"/><text x="808">Y108</text></g>
<g id="Y74" transform="rotate(81.983)"><use href="#tm"/><text x="808">Y74</text></g>
<g id="Y64" transform="rotate(85)"><use href="#tm"/><text x="808">Y64</text></g>
<g id="Y71" transform="rotate(88.017)"><use href="#tm"/><text x="808">Y71</text></g>
<g id="Y63" transform="rotate(91.034)"><use href="#tm"/><text class="f" x="-808" transform="rotate(180)">Y63</text></g>
<g id="Y57" transform="rotate(94.052)"><use href="#tm"/><text class="f" x="-808" transform="rotate(180)">Y57</text></g>
<g id="Y41" transform="rotate(97.069)"><use href="#tm"/><text class="f" x="-808" transform="rotate(180)">Y41</text></g>
<g id="Y4" transform="rotate(100.086)"><use href="#tm"/><text class="f" x="-808" transform="rotate(180)">Y4</text></g>
<g id="Y8" transform="rotate(103.103)"><use href="#tm"/><text class="f" x="-808" transform="rotate(180)">Y8</text></g>
<g id="Y14" transform="rotate(106.121)"><use href="#tm"/><text class="f" x="-808" transform="rotate(180)">Y14</text></g>
<g id="Y13" transform="rotate(109.138)"><use href="#tm"/><text class="f" x="-808" transform="rotate(180)">Y13</text></g>
<g id="Y29" transform="rotate(112.155)"><use href="#tm"/><text class="f" x="-808" transform="rotate(180)">Y29</text></g>
<g id="Y32" transform="rotate(115.172)"><use href="#tm"/><text class="f" x="-808" transform="rotate(180)">Y32</text></g>
<g id="Y36" transform="rotate(118.19)"><use href="#tm"/><text class="f" x="-808" transform="rotate(180)">Y36</text></g>
<g id="Y35" transform="rotate(121.207)"><use href="#tm"/><text class="f" x="-808" transform="rotate(180)">Y35</text></g>
<g id="Y53" transform="rotate(124.224)"><use href="#tm"/><text class="f" x="-808" transform="rotate(180)">Y53</text></g>
<g id="Y51" transform="rotate(127.241)"><use href="#tm"/><text class="f" x="-808" transform="rotate(180)">Y51</text></g>
<g id="Y10" transform="rotate(130.259)"><use href="#tm"/><text class="f" x="-808" transform="rotate(180)">Y10</text></g>
<g id="Y31" transform="rotate(133.276)"><use href="#tm"/><text class="f" x="-808" transform="rotate(180)">Y31</text></g>
<g id="Y47" transform="rotate(136.293)"><use href="#tm"/><text class="f" x="-808" transform="rotate(180)">Y47</text></g>
<g id="Y9" transform="rotate(139.31)"><use href="#tm"/><text class="f" x="-808" transform="rotate(180)">Y9</text></g>
<g id="Y12" transform="rotate(142.328)"><use href="#tm"/><text class="f" x="-808" transform="rotate(180)">Y12</text></g>
<g id="Y11" transform="rotate(145.345)"><use href="#tm"/><text class="f" x="-808" transform="rotate(180)">Y11</text></g>
<g id="Y48" transform="rotate(148.362)"><use href="#tm"/><text class="f" x="-808" transform="rotate(180)">Y48</text></g>
<g id="Y17" transform="rotate(151.379)"><use href="#tm"/><text class="f" x="-808" transform="rotate(180)">Y17</text></g>
<g id="Y6" transform="rotate(154.397)"><use href="#tm"/><text class="f" x="-808" transform="rotate(180)">Y6</text></g>
<g id="Y15" transform="rotate(157.414)"><use href="#tm"/><text class="f" x="-808" transform="rotate(180)">Y15</text></g>
<g id="Y55" transform="rotate(160.431)"><use href="#tm"/><text class="f" x="-808" transform="rotate(180)">Y55</text></g>
<g id="Y25" transform="rotate(163.448)"><use href="#tm"/><text class="f" x="-808" transform="rotate(180)">Y25</text></g>
<g id="Y45" transform="rotate(166.466)"><use href="#tm"/><text class="f" x="-808" transform="rotate(180)">Y45</text></g>
<g id="Y50" transform="rotate(169.483)"><use href="#tm"/><text class="f" x="-808" transform="rotate(180)">Y50</text></g>
<g id="Y42" transform="rotate(172.5)"><use href="#tm"/><text class="f" x="-808" transform="rotate(180)">Y42</text></g>
<g id="Y18" transform="rotate(175.517)"><use href="#tm"/><text class="f" x="-808" transform="rotate(180)">Y18</text></g>
<g id="Y34" transform="rotate(178.534)"><use href="#tm"/><text class="f" x="-808" transform="rotate(180)">Y34</text></g>
<g id="Y5" transform="rotate(181.552)"><use href="#tm"/><text class="f" x="-808" transform="rotate(180)">Y5</text></g>
<g id="Y26" transform="rotate(184.569)"><use href="#tm"/><text class="f" x="-808" transform="rotate(180)">Y26</text></g>
<g id="Y43" transform="rotate(187.586)"><use href="#tm"/><text class="f" x="-808" transform="rotate(180)">Y43</text></g>
<g id="Y40" transform="rotate(190.603)"><use href="#tm"/><text class="f" x="-808" transform="rotate(180)">Y40</text></g>
<g id="Y23" transform="rotate(193.621)"><use href="#tm"/><text class="f" x="-808" transform="rotate(180)">Y23</text></g>
<g id="Y52" transform="rotate(196.638)"><use href="#tm"/><text class="f" x="-808" transform="rotate(180)">Y52</text></g>
<g id="Y44" transform="rotate(199.655)"><use href="#tm"/><text class="f" x="-808" transform="rotate(180)">Y44</text></g>
<g id="Y3" transform="rotate(202.672)"><use href="#tm"/><text class="f" x="-808" transform="rotate(180)">Y3</text></g>
<g id="Y1" transform="rotate(205.69)"><use href="#tm"/><text class="f" x="-808" transform="rotate(180)">Y1</text></g>
<g id="Y46" transform="rotate(208.707)"><use href="#tm"/><text class="f" x="-808" transform="rotate(180)">Y46</text></g>
<g id="Y16" transform="rotate(211.724)"><use href="#tm"/><text class="f" x="-808" transform="rotate(180)">Y16</text></g>
<g id="Y30" transform="rotate(214.741)"><use href="#tm"/><text class="f" x="-808" transform="rotate(180)">Y30</text></g>
<g id="Y7" transform="rotate(217.759)"><use href="#tm"/><text class="f" x="-808" transform="rotate(180)">Y7</text></g>
<g id="Y37" transform="rotate(220.776)"><use href="#tm"/><text class="f" x="-808" transform="rotate(180)">Y37</text></g>
<g id="Y20" transform="rotate(223.793)"><use href="#tm"/><text class="f" x="-808" transform="rotate(180)">Y20</text></g>
<g id="Y21" transform="rotate(226.81)"><use href="#tm"/><text class="f" x="-808" transform="rotate(180)">Y21</text></g>
<g id="Y2" transform="rotate(229.828)"><use href="#tm"/><text class="f" x="-808" transform="rotate(180)">Y2</text></g>
<g id="Y24" transform="rotate(232.845)"><use href="#tm"/><text class="f" x="-808" transform="rotate(180)">Y24</text></g>
<g id="Y54" transform="rotate(235.862)"><use href="#tm"/><text class="f" x="-808" transform="rotate(180)">Y54</text></g>
<g id="Y49" transform="rotate(238.879)"><use href="#tm"/><text class="f" x="-808" transform="rotate(180)">Y49</text></g>
<g id="Y38" transform="rotate(241.897)"><use href="#tm"/><text class="f" x="-808" transform="rotate(180)">Y38</text></g>
<g id="Y33" transform="rotate(244.914)"><use href="#tm"/><text class="f" x="-808" transform="rotate(180)">Y33</text></g>
<g id="Y27" transform="rotate(247.931)"><use href="#tm"/><text class="f" x="-808" transform="rotate(180)">Y27</text></g>
<g id="Y39" transform="rotate(250.948)"><use href="#tm"/><text class="f" x="-808" transform="rotate(180)">Y39</text></g>
<g id="Y22" transform="rotate(253.966)"><use href="#tm"/><text class="f" x="-808" transform="rotate(180)">Y22</text></g>
<g id="Y28" transform="rotate(256.983)"><use href="#tm"/><text class="f" x="-808" transform="rotate(180)">Y28</text></g>
<g id="Y19" transform="rotate(260)"><use href="#tm"/><text class="f" x="-808" transform="rotate(180)">Y19</text></g>
</g>
</g>
<g id="clusters">
<g id="c1"><path class="ca" stroke="#FF0000" d="M903.2 82.5A364.8 364.8 0 0 1 1291.8 166.6"/><text class="cl" fill="#FF0000" transform="translate(1121 38) rotate(12.9)">1</text></g>
<g id="c2"><path class="ca" stroke="#00BFFF" d="M1303.8 172.2A304.8 304.8 0 0 1 1631.8 453.6"/><text class="cl" fill="#00BFFF" transform="translate(1545 229) rotate(41.3)">2</text></g>
<g id="c3"><path class="ca" stroke="#8C7FC2" d="M1644.6 470.3A335.4 335.4 0 0 1 1786 922.2"/><text class="cl" fill="#8C7FC2" transform="translate(1834 664) rotate(73.3)">3</text></g>
<g id="c4"><path class="ca" stroke="#2A88CC" d="M1786 944.9A310.8 310.8 0 0 1 1699.6 1331.8"/><text class="cl" fill="#2A88CC" transform="translate(1842 1154) rotate(101.5)">4</text></g>
<g id="c5"><path class="ca" stroke="#F44336" d="M1690.4 1343.7A365.5 365.5 0 0 1 1289.9 1735.1"/><text class="cl" fill="#F44336" transform="translate(1601 1643) rotate(134.6)">5</text></g>
<g id="c6"><path class="ca" stroke="#8CC800" d="M1275.9 1740.3A112.6 112.6 0 0 1 1159.1 1782.1"/><text class="cl" fill="#8CC800" transform="translate(1240 1801) rotate(157)">6</text></g>
<g id="c7"><path class="ca" stroke="#FFE700" d="M1147.9 1788.1A134.2 134.2 0 0 1 1022.8 1810.8"/><text class="cl" fill="#FFE700" transform="translate(1101 1834) rotate(166)">7</text></g>
<g id="c8"><path class="ca" stroke="#8300FF" d="M1015.6 1814A110.3 110.3 0 0 1 886.1 1816"/><text class="cl" fill="#8300FF" transform="translate(955 1854) rotate(177.5)">8</text></g>
<g id="c9"><text class="cl" fill="#A2FF0A" transform="translate(860 1834)">9</text></g>
<g id="c10"><path class="ca" stroke="#00FF66" d="M836.2 1815.2A76.5 76.5 0 0 1 751.7 1802.9"/><text class="cl" fill="#00FF66" transform="translate(782 1844) rotate(192)">10</text></g>
<g id="c11"><path class="ca" stroke="#FF3C00" d="M743.8 1804A270.2 270.2 0 0 1 458.4 1688.5"/><text class="cl" fill="#FF3C00" transform="translate(558 1810) rotate(205)">11</text></g>
<g id="c12"><path class="ca" stroke="#FFFF00" d="M446.4 1682.5A590 590 0 0 1 55 921"/><text class="cl" fill="#FFFF00" transform="translate(86 1447) rotate(237.6)">12</text></g>
<g id="c13"><path class="ca" stroke="#0000FF" d="M57.8 895A669 669 0 0 1 788 87.7"/><text class="cl" fill="#0000FF" transform="translate(197 291) rotate(-48.1)">13</text></g>
</g>
</svg>
